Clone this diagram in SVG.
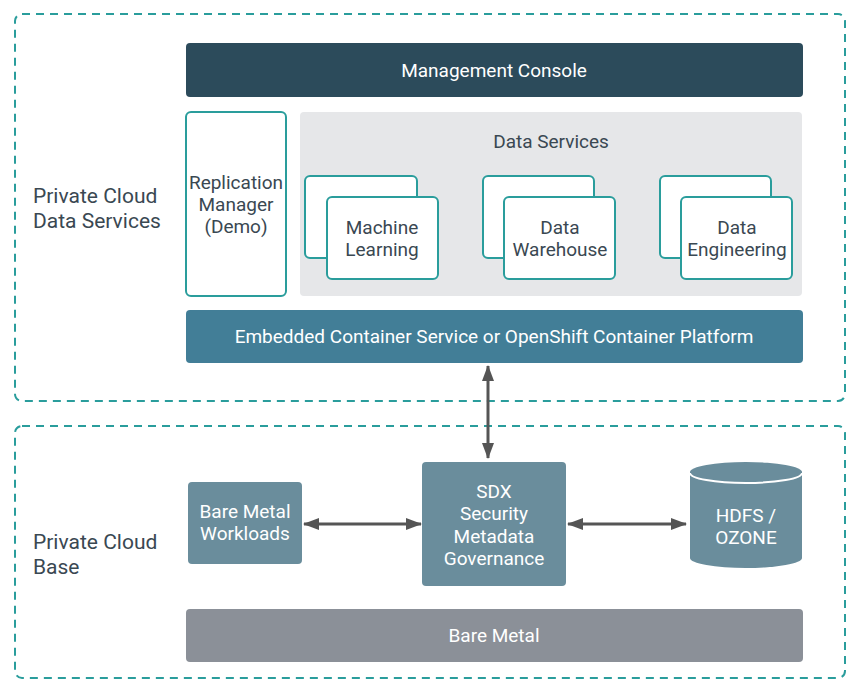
<svg xmlns="http://www.w3.org/2000/svg" width="862" height="695" viewBox="0 0 862 695">
<style>
text{font-family:Roboto,"Liberation Sans",sans-serif;}
.zone{fill:none;stroke:#2a9d9c;stroke-width:2;stroke-dasharray:8 6;}
.lbl{font-size:21px;fill:#3a4852;}
.card{fill:#fff;stroke:#2a9d9c;stroke-width:2;}
.dark{font-size:19px;fill:#3a4852;text-anchor:middle;}
.wt{font-size:19px;fill:#fff;text-anchor:middle;}
.slate{fill:#6a8d9c;}
.conn{stroke:#555;stroke-width:3;fill:none;}
</style>
<defs>
<marker id="ah" viewBox="0 0 16 12" refX="15" refY="6" markerWidth="16" markerHeight="12" markerUnits="userSpaceOnUse" orient="auto-start-reverse">
<path d="M0,0 L16,6 L0,12 z" fill="#555"/>
</marker>
</defs>
<rect width="862" height="695" fill="#fff"/>

<g id="zone-data-services">
<rect class="zone" x="15" y="14" width="830" height="387" rx="7"/>
<text class="lbl" x="33" y="203">Private Cloud</text>
<text class="lbl" x="33" y="228">Data Services</text>
</g>
<g id="zone-base">
<rect class="zone" x="15" y="426" width="830" height="252" rx="7"/>
<text class="lbl" x="33" y="549">Private Cloud</text>
<text class="lbl" x="33" y="574">Base</text>
</g>

<g id="management-console">
<rect x="186" y="43" width="617" height="54" rx="4" fill="#2c4b5b"/>
<text class="wt" x="494" y="77">Management Console</text>
</g>

<g id="replication-manager">
<rect class="card" x="186" y="112" width="100" height="184" rx="5"/>
<text class="dark" x="236" y="189">Replication</text>
<text class="dark" x="236" y="211">Manager</text>
<text class="dark" x="236" y="233">(Demo)</text>
</g>

<g id="data-services">
<rect x="300" y="112" width="502" height="184" rx="4" fill="#e6e7e9"/>
<text class="dark" x="551" y="148">Data Services</text>
</g>

<g id="machine-learning">
<rect class="card" x="305" y="176" width="112" height="82" rx="5"/>
<rect class="card" x="327" y="197" width="111" height="82" rx="5"/>
<text class="dark" x="382" y="234">Machine</text>
<text class="dark" x="382" y="256">Learning</text>
</g>

<g id="data-warehouse">
<rect class="card" x="483" y="176" width="111" height="82" rx="5"/>
<rect class="card" x="504" y="197" width="111" height="82" rx="5"/>
<text class="dark" x="560" y="234">Data</text>
<text class="dark" x="560" y="256">Warehouse</text>
</g>

<g id="data-engineering">
<rect class="card" x="660" y="176" width="111" height="82" rx="5"/>
<rect class="card" x="681" y="197" width="111" height="82" rx="5"/>
<text class="dark" x="737" y="234">Data</text>
<text class="dark" x="737" y="256">Engineering</text>
</g>

<g id="container-platform">
<rect x="186" y="310" width="617" height="53" rx="4" fill="#427e97"/>
<text class="wt" x="494" y="343">Embedded Container Service or OpenShift Container Platform</text>
</g>

<g id="bare-metal-workloads">
<rect class="slate" x="188" y="482" width="114" height="82" rx="4"/>
<text class="wt" x="245" y="518">Bare Metal</text>
<text class="wt" x="245" y="540">Workloads</text>
</g>

<g id="sdx">
<rect class="slate" x="422" y="462" width="144" height="124" rx="4"/>
<text class="wt" x="494" y="498">SDX</text>
<text class="wt" x="494" y="520">Security</text>
<text class="wt" x="494" y="543">Metadata</text>
<text class="wt" x="494" y="565">Governance</text>
</g>

<g id="hdfs-ozone">
<path class="slate" d="M690,472 A56,10 0 0 1 802,472 L802,558 A56,10 0 0 1 690,558 Z"/>
<path d="M690,473 A56,10 0 0 0 802,473" fill="none" stroke="#fff" stroke-width="2"/>
<text class="wt" x="746" y="522">HDFS /</text>
<text class="wt" x="746" y="544">OZONE</text>
</g>

<g id="bare-metal">
<rect x="186" y="609" width="617" height="53" rx="4" fill="#8b9098"/>
<text class="wt" x="494" y="642">Bare Metal</text>
</g>

<g id="connectors">
<line class="conn" x1="488" y1="366" x2="488" y2="458" marker-start="url(#ah)" marker-end="url(#ah)"/>
<line class="conn" x1="304" y1="524" x2="421" y2="524" marker-start="url(#ah)" marker-end="url(#ah)"/>
<line class="conn" x1="568" y1="524" x2="686" y2="524" marker-start="url(#ah)" marker-end="url(#ah)"/>
</g>
</svg>
